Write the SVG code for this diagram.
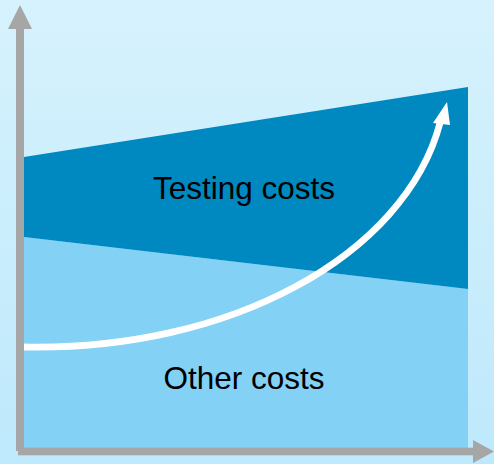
<svg xmlns="http://www.w3.org/2000/svg" width="494" height="464" viewBox="0 0 494 464">
  <defs>
    <linearGradient id="bg" x1="0" y1="0" x2="0" y2="1">
      <stop offset="0" stop-color="#d6f2fd"/>
      <stop offset="1" stop-color="#bee9fc"/>
    </linearGradient>
    <style>
      .axis { fill: #a6a6a6; }
      .lbl { font-family: "Liberation Sans", Arial, sans-serif; font-size: 31.5px; fill: #000; text-anchor: middle; }
    </style>
  </defs>
  <rect x="0" y="0" width="494" height="464" fill="url(#bg)"/>
  <g id="other-costs">
    <polygon points="24,237 468,289 468,448 24,448" fill="#83d1f5"/>
    <text class="lbl" x="244" y="388.5">Other costs</text>
  </g>
  <g id="testing-costs">
    <polygon points="24,157 468,87 468,289 24,237" fill="#0088c0"/>
    <text class="lbl" x="244" y="198.5">Testing costs</text>
  </g>
  <g id="growth-arrow">
    <path d="M22,347 C230,352 405,255 440,123" fill="none" stroke="#ffffff" stroke-width="6.8"/>
    <polygon points="447,102 433,123 450,125" fill="#ffffff"/>
  </g>
  <g id="axes">
    <rect class="axis" x="16" y="28" width="8" height="423"/>
    <polygon class="axis" points="20,5 32,29 8,29"/>
    <rect class="axis" x="18" y="447.7" width="456" height="7.6"/>
    <polygon class="axis" points="494,451.5 473,440 473,463"/>
  </g>
</svg>
